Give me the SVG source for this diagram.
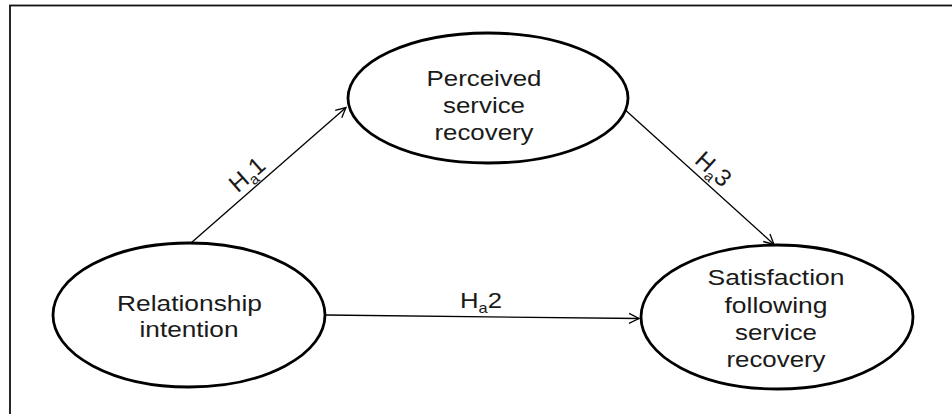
<svg xmlns="http://www.w3.org/2000/svg" width="952" height="414" viewBox="0 0 952 414">
  <style>
    .node { fill: #ffffff; stroke: #000000; stroke-width: 2.8; }
    .lbl { font-family: "Liberation Sans", Arial, sans-serif; font-size: 22px; fill: #1a1a1a; text-anchor: middle; }
    .rl { font-size: 24px; }
    .sub { font-size: 14px; }
    .rsub { font-size: 15px; }
    .conn { stroke: #000000; stroke-width: 1.3; fill: none; }
    .frame { fill: none; stroke: #111111; stroke-width: 1.8; }
  </style>
  <defs>
    <marker id="arrow" markerUnits="userSpaceOnUse" markerWidth="14" markerHeight="14" refX="11" refY="6" orient="auto">
      <path d="M1,1 L11,6 L1,11" fill="none" stroke="#000000" stroke-width="1.3"/>
    </marker>
  </defs>
  <rect width="952" height="414" fill="#ffffff"/>
  <rect class="frame" x="10" y="5.5" width="960" height="430"/>

  <g id="connectors">
    <line class="conn" x1="191" y1="243" x2="346" y2="107.5" marker-end="url(#arrow)"/>
    <line class="conn" x1="622" y1="107" x2="774" y2="244.5" marker-end="url(#arrow)"/>
    <line class="conn" x1="326" y1="315" x2="639" y2="318.5" marker-end="url(#arrow)"/>
    <text class="lbl rl" transform="translate(252.5,180.5) rotate(-41.3)">H<tspan class="rsub" dy="5">a</tspan><tspan dy="-5">1</tspan></text>
    <text class="lbl rl" transform="translate(708,175) rotate(42.2)">H<tspan class="rsub" dy="5">a</tspan><tspan dy="-5">3</tspan></text>
    <text class="lbl" transform="translate(481,308.3) scale(1.17,1)">H<tspan class="sub" dy="5">a</tspan><tspan dy="-5">2</tspan></text>
  </g>

  <g id="perceived">
    <ellipse class="node" cx="488" cy="98" rx="140" ry="65"/>
    <text class="lbl" x="484" y="85.7" textLength="115" lengthAdjust="spacingAndGlyphs">Perceived</text>
    <text class="lbl" x="484" y="112.7" textLength="82" lengthAdjust="spacingAndGlyphs">service</text>
    <text class="lbl" x="484" y="139.7" textLength="99" lengthAdjust="spacingAndGlyphs">recovery</text>
  </g>

  <g id="relationship">
    <ellipse class="node" cx="189" cy="315" rx="136" ry="72"/>
    <text class="lbl" x="189.5" y="310.7" textLength="145" lengthAdjust="spacingAndGlyphs">Relationship</text>
    <text class="lbl" x="189" y="337" textLength="99" lengthAdjust="spacingAndGlyphs">intention</text>
  </g>

  <g id="satisfaction">
    <ellipse class="node" cx="777" cy="317" rx="136" ry="72"/>
    <text class="lbl" x="776" y="285" textLength="137" lengthAdjust="spacingAndGlyphs">Satisfaction</text>
    <text class="lbl" x="776" y="312.5" textLength="103" lengthAdjust="spacingAndGlyphs">following</text>
    <text class="lbl" x="776" y="340" textLength="82" lengthAdjust="spacingAndGlyphs">service</text>
    <text class="lbl" x="776" y="366.7" textLength="99" lengthAdjust="spacingAndGlyphs">recovery</text>
  </g>
</svg>
